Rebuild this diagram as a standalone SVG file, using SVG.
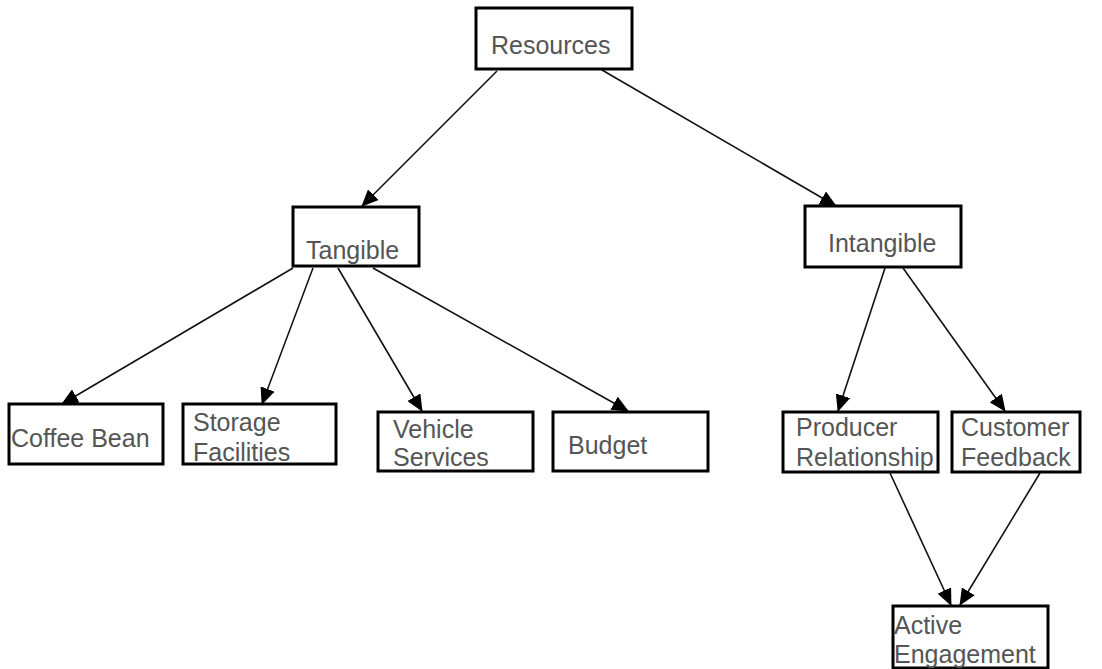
<svg xmlns="http://www.w3.org/2000/svg" width="1102" height="669" viewBox="0 0 1102 669">
<style>
.box{fill:#fff;stroke:#000;stroke-width:3}
.t{font-family:"Liberation Sans",Arial,sans-serif;font-size:25px;fill:#555}
.c{stroke:#111;stroke-width:1.6;fill:none;marker-end:url(#ah)}
</style>
<defs>
<marker id="ah" markerWidth="17" markerHeight="15" refX="16" refY="7.5" orient="auto" markerUnits="userSpaceOnUse">
<path d="M0,0 L17,7.5 L0,15 Z" fill="#000"/>
</marker>
</defs>
<rect width="1102" height="669" fill="#fff"/>
<g id="connectors">
<line class="c" x1="497" y1="71" x2="362" y2="206"/>
<line class="c" x1="602" y1="70" x2="836" y2="206"/>
<line class="c" x1="293" y1="268" x2="62" y2="404"/>
<line class="c" x1="313" y1="268" x2="262" y2="404"/>
<line class="c" x1="338" y1="268" x2="422" y2="411"/>
<line class="c" x1="373" y1="268" x2="628" y2="411"/>
<line class="c" x1="885" y1="268" x2="838" y2="411"/>
<line class="c" x1="903" y1="268" x2="1005" y2="411"/>
<line class="c" x1="890" y1="473" x2="951" y2="605"/>
<line class="c" x1="1040" y1="473" x2="960" y2="605"/>
</g>
<g id="resources"><rect class="box" x="476" y="8" width="156" height="61"/><text class="t" x="491" y="54">Resources</text></g>
<g id="tangible"><rect class="box" x="293" y="207" width="126" height="59"/><text class="t" x="306" y="259">Tangible</text></g>
<g id="intangible"><rect class="box" x="805" y="206" width="156" height="61"/><text class="t" x="828" y="252">Intangible</text></g>
<g id="coffee"><rect class="box" x="9" y="404" width="154" height="60"/><text class="t" x="11" y="447">Coffee Bean</text></g>
<g id="storage"><rect class="box" x="183" y="404" width="153" height="60"/><text class="t" x="193" y="431">Storage</text><text class="t" x="193" y="461">Facilities</text></g>
<g id="vehicle"><rect class="box" x="378" y="412" width="155" height="59"/><text class="t" x="393" y="438">Vehicle</text><text class="t" x="393" y="466">Services</text></g>
<g id="budget"><rect class="box" x="553" y="412" width="155" height="59"/><text class="t" x="568" y="454">Budget</text></g>
<g id="producer"><rect class="box" x="783" y="412" width="155" height="60"/><text class="t" x="796" y="436">Producer</text><text class="t" x="796" y="466">Relationship</text></g>
<g id="customer"><rect class="box" x="952" y="412" width="128" height="60"/><text class="t" x="961" y="436">Customer</text><text class="t" x="961" y="466">Feedback</text></g>
<g id="active"><rect class="box" x="893" y="606" width="155" height="62"/><text class="t" x="894" y="634">Active</text><text class="t" x="894" y="663">Engagement</text></g>
</svg>
